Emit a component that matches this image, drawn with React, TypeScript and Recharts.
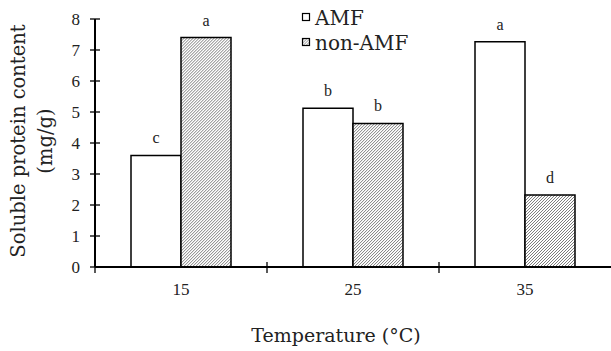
import React from 'react';
import { BarChart, Bar, XAxis, YAxis, LabelList } from 'recharts';

const categories = ['15', '25', '35'];
const amfValues = [3.6, 5.12, 7.27];
const nonAmfValues = [7.4, 4.63, 2.32];
const amfLetters = ['c', 'b', 'a'];
const nonAmfLetters = ['a', 'b', 'd'];
const yTicks = [0, 1, 2, 3, 4, 5, 6, 7, 8];
const seriesNames = ['AMF', 'non-AMF'];
const xTitle = 'Temperature (°C)';
const yTitle1 = 'Soluble protein content';
const yTitle2 = '(mg/g)';

const data = categories.map((c, i) => ({
  cat: c,
  amf: amfValues[i],
  nonAmf: nonAmfValues[i],
  amfL: amfLetters[i],
  nonAmfL: nonAmfLetters[i],
}));

const W = 611;
const H = 351;
const LEFT = 95;
const TOP = 19;
const XH = 84;
const BW = (W - LEFT) / categories.length;

const serif = '"Liberation Serif", "Times New Roman", serif';
const wideSerif = '"DejaVu Serif", serif';

const YTick = (props: any) => {
  const { x, y, payload } = props;
  return (
    <g>
      <line x1={x - 5} x2={x + 5} y1={y} y2={y} stroke="#000" strokeWidth={1.3} />
      <text x={x - 15} y={y} dy="0.35em" textAnchor="end" fontFamily={serif} fontSize={17} fill="#222">
        {payload.value}
      </text>
    </g>
  );
};

const XTick = (props: any) => {
  const { x, y, payload, index } = props;
  const bx = x - BW / 2;
  return (
    <g>
      <line x1={bx} x2={bx} y1={index === 0 ? y : y - 5} y2={y + 6} stroke="#000" strokeWidth={1.3} />
      <text x={x} y={y + 28} textAnchor="middle" fontFamily={serif} fontSize={17} fill="#222">
        {payload.value}
      </text>
    </g>
  );
};

const makeLetter = () => (props: any) => {
  const { x, y, width, value } = props;
  return (
    <text x={x + width / 2} y={y - 12} textAnchor="middle" fontFamily={serif} fontSize={16} fill="#222">
      {value}
    </text>
  );
};

export default function App() {
  return (
    <div style={{ position: 'absolute', left: 0, top: 0, width: W, height: H, background: '#fff' }}>
      <BarChart
        width={W}
        height={H}
        data={data}
        margin={{ top: TOP, right: 0, bottom: 0, left: 0 }}
        barCategoryGap={36}
        barGap={0}
      >
        <defs>
          <pattern id="hatch" width="2.12" height="2.12" patternUnits="userSpaceOnUse" patternTransform="rotate(45)">
            <rect width="2.12" height="2.12" fill="#fff" />
            <line x1="0" y1="0" x2="0" y2="2.12" stroke="#444" strokeWidth="1" />
          </pattern>
        </defs>
        <XAxis
          dataKey="cat"
          height={XH}
          tickSize={0}
          tickMargin={0}
          tickLine={false}
          tick={<XTick />}
          axisLine={{ stroke: '#000', strokeWidth: 2 }}
          interval={0}
        />
        <YAxis
          width={LEFT}
          domain={[0, 8]}
          ticks={yTicks}
          tickSize={0}
          tickMargin={0}
          tickLine={false}
          tick={<YTick />}
          axisLine={{ stroke: '#000', strokeWidth: 2 }}
          interval={0}
        />
        <Bar dataKey="amf" fill="#fff" stroke="#000" strokeWidth={1.5} isAnimationActive={false}>
          <LabelList dataKey="amfL" content={makeLetter()} />
        </Bar>
        <Bar dataKey="nonAmf" fill="url(#hatch)" stroke="#000" strokeWidth={1.5} isAnimationActive={false}>
          <LabelList dataKey="nonAmfL" content={makeLetter()} />
        </Bar>
      </BarChart>
      <svg width={W} height={H} style={{ position: 'absolute', left: 0, top: 0, pointerEvents: 'none' }}>
        <defs>
          <pattern id="hatch2" width="2" height="2" patternUnits="userSpaceOnUse" patternTransform="rotate(45)">
            <rect width="2" height="2" fill="#fff" />
            <line x1="0" y1="0" x2="0" y2="2" stroke="#444" strokeWidth="0.9" />
          </pattern>
        </defs>
        <rect x={302.5} y={13.5} width={7} height={7} fill="#fff" stroke="#000" strokeWidth={1.2} />
        <text x={315} y={25} fontFamily={wideSerif} fontSize={20} fill="#222">{seriesNames[0]}</text>
        <rect x={302.5} y={38.5} width={7} height={7} fill="url(#hatch2)" stroke="#000" strokeWidth={1.2} />
        <text x={315} y={50} fontFamily={wideSerif} fontSize={20} fill="#222">{seriesNames[1]}</text>
        <text x={336} y={342} textAnchor="middle" fontFamily={wideSerif} fontSize={19} fill="#222">{xTitle}</text>
        <text x={0} y={0} transform="translate(18,141) rotate(-90)" textAnchor="middle" dominantBaseline="central" fontFamily={wideSerif} fontSize={19.5} fill="#222">{yTitle1}</text>
        <text x={0} y={0} transform="translate(45,141) rotate(-90)" textAnchor="middle" dominantBaseline="central" fontFamily={wideSerif} fontSize={19.5} fill="#222">{yTitle2}</text>
      </svg>
    </div>
  );
}
